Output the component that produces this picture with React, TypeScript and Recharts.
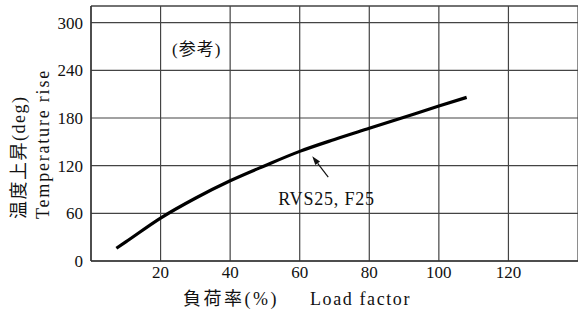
import { LineChart, Line, XAxis, YAxis, CartesianGrid, ReferenceLine, ReferenceDot, Label } from "recharts";

// load factor (%) vs temperature rise (deg)
const loadFactor = [7.3, 10, 20, 30, 40, 50, 60, 70, 80, 90, 100, 108];
const tempRise = [16, 24, 54, 79, 101, 120, 138, 153, 167, 181, 195, 206];
const xTicks = [20, 40, 60, 80, 100, 120];
const yTicks = [0, 60, 120, 180, 240, 300];
const xMax = 140;
const yMax = 321;

const data = loadFactor.map((x, i) => ({ x, y: tempRise[i] }));

const FONT = "Liberation Serif, Times New Roman, Noto Sans CJK JP, serif";
const tickStyle = { fontFamily: FONT, fontSize: 17, fill: "#111" };

function NoteShape({ cx, cy }: any) {
    return (
        <text x={cx} y={cy} textAnchor="middle" dominantBaseline="central" style={{ fontFamily: FONT }} fontSize={17} letterSpacing={1} fill="#111">
            (参考)
        </text>
    );
}

function ArrowShape({ cx, cy }: any) {
    const tx = cx + 16, ty = cy + 21;
    const len = Math.hypot(tx - cx, ty - cy);
    const ux = (cx - tx) / len, uy = (cy - ty) / len;
    const bx = cx - ux * 9, by = cy - uy * 9;
    return (
        <g>
            <line x1={tx} y1={ty} x2={bx} y2={by} stroke="#111" strokeWidth={1.2} />
            <polygon points={`${cx},${cy} ${bx - uy * 3},${by + ux * 3} ${bx + uy * 3},${by - ux * 3}`} fill="#111" />
            <text x={cx - 34} y={cy + 49} style={{ fontFamily: FONT }} fontSize={18} letterSpacing={0.8} fill="#111">RVS25, F25</text>
        </g>
    );
}

function YLabel() {
    return (
        <g style={{ fontFamily: FONT }} fontSize={18} fill="#111">
            <text transform="translate(19,219) rotate(-90)" dominantBaseline="central" letterSpacing={1.5}>温度上昇(deg)</text>
            <text transform="translate(43,219) rotate(-90)" dominantBaseline="central" letterSpacing={1.8}>Temperature rise</text>
        </g>
    );
}

function XLabel() {
    return (
        <g style={{ fontFamily: FONT }} fontSize={18} fill="#111">
            <text x={183} y={305} letterSpacing={2.5}>負荷率(%)</text>
            <text x={310} y={305} letterSpacing={1.6}>Load factor</text>
        </g>
    );
}

export default function App() {
    return (
        <div style={{ position: "absolute", left: 0, top: 0, background: "#fff" }}>
            <LineChart width={578} height={311} data={data} margin={{ top: 6, right: 0, left: 0, bottom: 0 }}>
                <CartesianGrid stroke="#444" strokeWidth={1.2} />
                <XAxis dataKey="x" type="number" domain={[0, xMax]} ticks={xTicks} tick={tickStyle} tickLine={false} tickSize={0} tickMargin={5} height={50} axisLine={{ stroke: "#333", strokeWidth: 1.4 }}>
                    <Label content={<XLabel />} />
                </XAxis>
                <YAxis type="number" domain={[0, yMax]} ticks={yTicks} tick={tickStyle} tickLine={false} tickSize={0} tickMargin={8} width={91} axisLine={{ stroke: "#333", strokeWidth: 1.4 }}>
                    <Label content={<YLabel />} />
                </YAxis>
                <ReferenceLine y={yMax} stroke="#444" strokeWidth={1.2} />
                <Line dataKey="y" type="monotone" stroke="#000" strokeWidth={3.2} dot={false} isAnimationActive={false} />
                <ReferenceDot x={30.4} y={266} shape={<NoteShape />} />
                <ReferenceDot x={63.6} y={132} shape={<ArrowShape />} />
            </LineChart>
        </div>
    );
}
